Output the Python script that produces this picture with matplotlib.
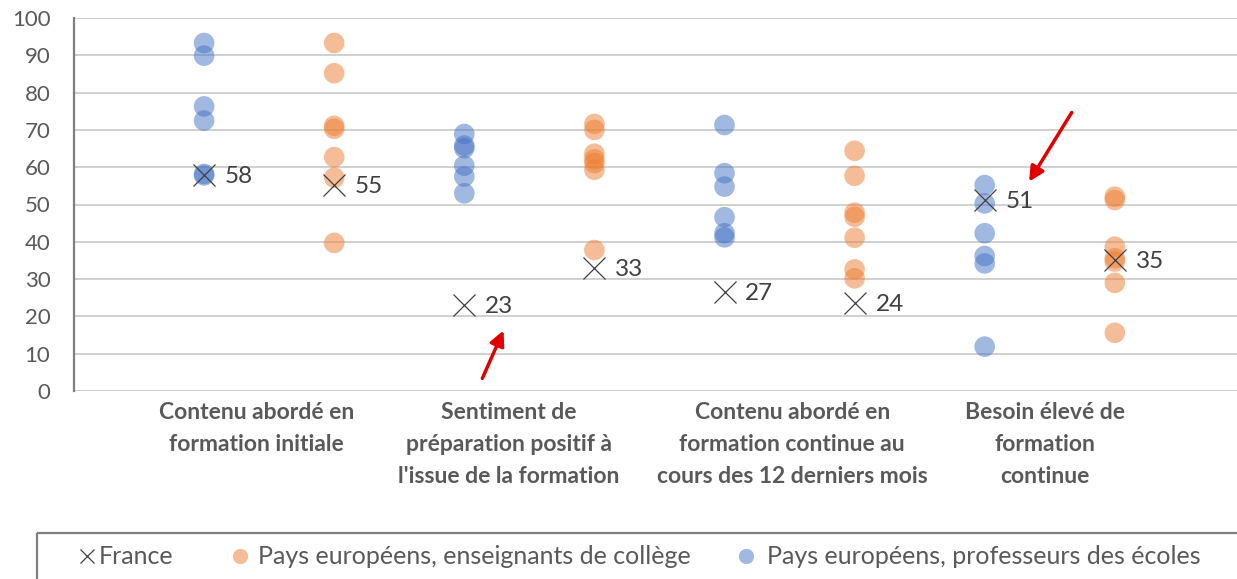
import matplotlib

matplotlib.use("Agg")
import matplotlib.pyplot as plt
from matplotlib.patches import Rectangle

plt.rcParams['font.family'] = ['Lato', 'DejaVu Sans']

categories = ['Contenu abordé en\nformation initiale',
              'Sentiment de\npréparation positif à\nl\'issue de la formation',
              'Contenu abordé en\nformation continue au\ncours des 12 derniers mois',
              'Besoin élevé de\nformation\ncontinue']

# Pays européens, professeurs des écoles (une liste par catégorie)
ecoles = [[93.3, 89.9, 76.3, 72.5, 58.2, 57.8],
          [68.9, 65.8, 65.1, 60.4, 57.5, 53.0],
          [71.3, 58.4, 54.8, 46.6, 42.3, 41.2],
          [55.2, 50.3, 42.3, 36.2, 34.2, 11.9]]
# Pays européens, enseignants de collège
college = [[93.3, 85.2, 71.1, 70.3, 62.7, 57.2, 39.7],
           [71.6, 70.0, 63.6, 62.1, 61.1, 59.3, 37.8],
           [64.4, 57.7, 47.8, 46.7, 41.1, 32.6, 30.2],
           [52.1, 51.2, 38.7, 35.6, 34.7, 29.0, 15.6]]
# France : (écoles, collège) par catégorie
france_ecoles = [57.9, 23.1, 26.6, 51.2]
france_college = [55.2, 33.0, 23.6, 35.2]

legend_labels = ['France', 'Pays européens, enseignants de collège', 'Pays européens, professeurs des écoles']

blue = '#4472C4'
orange = '#ED7D31'
txt_gray = '#595959'
dark = '#404040'

fig = plt.figure(figsize=(12.37, 5.79), dpi=100)
ax = fig.add_axes([74 / 1237, 1 - 391 / 579, 1 - 74 / 1237, (391 - 18) / 579])

for i in range(len(categories)):
    xb = 2 * i + 1
    xc = 2 * i + 2
    ax.scatter([xb] * len(ecoles[i]), ecoles[i], s=220, color=blue, alpha=0.5, edgecolors='none', zorder=3)
    ax.scatter([xc] * len(college[i]), college[i], s=220, color=orange, alpha=0.5, edgecolors='none', zorder=3)
    for x, v in [(xb, france_ecoles[i]), (xc, france_college[i])]:
        ax.plot(x, v, marker='x', ms=15.5, mew=0.9, color=dark, ls='', zorder=4)
        ax.annotate(str(round(v)), (x, v), xytext=(15, -1), textcoords='offset points',
                    ha='left', va='center', fontsize=17.5, color=dark)

ax.set_xlim(0, (1237 - 74) / 130.1)
ax.set_ylim(0, 100)
ax.set_yticks(range(0, 101, 10))
ax.set_xticks([])
ax.tick_params(axis='y', length=0, pad=17, labelsize=16, labelcolor=txt_gray)
ax.grid(axis='y', color='#c8c8c8', lw=1.2)
ax.set_axisbelow(True)
for s in ['top', 'right', 'bottom']:
    ax.spines[s].set_visible(False)
ax.spines['left'].set_color('#7f7f7f')
ax.spines['left'].set_linewidth(1.6)

# libellés des catégories
label_x = [1.40, 3.34, 5.52, 7.46]
for x, lab in zip(label_x, categories):
    ax.text(x, -3.0, lab, ha='center', va='top', fontsize=16.5, fontweight='bold',
            color=txt_gray, linespacing=1.65)

# flèches rouges
ax.annotate('', xy=(3.31, 16.9), xytext=(3.13, 2.7),
            arrowprops=dict(arrowstyle='-|>', color='#E00000', lw=2.5, mutation_scale=22),
            annotation_clip=False)
ax.annotate('', xy=(7.33, 55.5), xytext=(7.68, 75.3),
            arrowprops=dict(arrowstyle='-|>', color='#E00000', lw=2.5, mutation_scale=22),
            annotation_clip=False)

# légende, dessinée dans un repère en pixels
ov = fig.add_axes([0, 0, 1, 1], facecolor='none')
ov.set_xlim(0, 1237)
ov.set_ylim(579, 0)
ov.axis('off')
ov.add_patch(Rectangle((37, 533), 1300, 100, fill=False, edgecolor='#7f7f7f', lw=1.6))
ov.plot(87, 556, marker='x', ms=10, mew=0.9, color=dark, ls='')
ov.plot(240, 556, marker='o', ms=11, color=orange, alpha=0.5, mec='none', ls='')
ov.plot(746, 556, marker='o', ms=11, color=blue, alpha=0.5, mec='none', ls='')
for x, lab in zip([99, 258, 767], legend_labels):
    ov.text(x, 556, lab, ha='left', va='center', fontsize=18, color=txt_gray)

fig.savefig('out.png', dpi=100)
